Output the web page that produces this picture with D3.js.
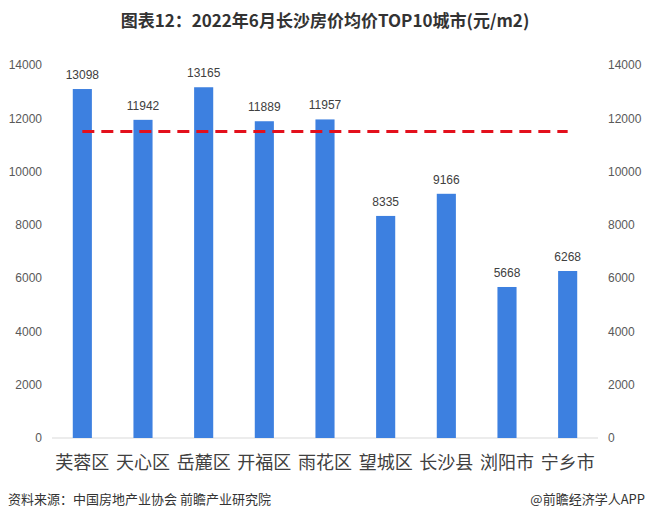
<!DOCTYPE html>
<html>
<head>
<meta charset="utf-8">
<script src="https://cdn.jsdelivr.net/npm/d3@7"></script>
<style>
  body { margin: 0; background: #fff; }
  text { font-family: "Noto Sans CJK SC", "Noto Sans", sans-serif; }
  .num { font-family: "Liberation Sans", Arial, sans-serif; }
</style>
</head>
<body>
<svg id="chart"></svg>
<script>
const categories = ["芙蓉区", "天心区", "岳麓区", "开福区", "雨花区", "望城区", "长沙县", "浏阳市", "宁乡市"];
const prices = [13098, 11942, 13165, 11889, 11957, 8335, 9166, 5668, 6268];
const avgLine = 11500;
const yTicks = [0, 2000, 4000, 6000, 8000, 10000, 12000, 14000];

const width = 650, height = 522;
const margin = { top: 65, bottom: 84, left: 52, right: 52 };

const svg = d3.select("#chart").attr("width", width).attr("height", height);

// title
svg.append("text")
  .attr("x", width / 2).attr("y", 27)
  .attr("text-anchor", "middle")
  .style("font-size", "17px").style("font-weight", "bold")
  .style("fill", "#333")
  .text("图表12：2022年6月长沙房价均价TOP10城市(元/m2)");

const x = d3.scaleBand()
  .domain(categories)
  .range([margin.left, width - margin.right])
  .paddingInner(0.685)
  .paddingOuter(0.3425);

const y = d3.scaleLinear()
  .domain([0, 14000])
  .range([height - margin.bottom, margin.top]);

// left axis
const leftAxis = svg.append("g")
  .attr("transform", `translate(${margin.left - 10},0)`)
  .call(d3.axisLeft(y).tickValues(yTicks).tickFormat(d3.format("d")).tickSize(0).tickPadding(0));
leftAxis.select(".domain").remove();
leftAxis.selectAll("text").attr("class", "num").style("font-size", "12px").style("fill", "#595959");

// right axis
const rightAxis = svg.append("g")
  .attr("transform", `translate(${width - margin.right + 10},0)`)
  .call(d3.axisRight(y).tickValues(yTicks).tickFormat(d3.format("d")).tickSize(0).tickPadding(0));
rightAxis.select(".domain").remove();
rightAxis.selectAll("text").attr("class", "num").style("font-size", "12px").style("fill", "#595959");

// baseline
svg.append("line")
  .attr("x1", margin.left).attr("x2", width - margin.right)
  .attr("y1", y(0)).attr("y2", y(0))
  .style("stroke", "#d9d9d9").style("stroke-width", 1);

// bars
svg.selectAll(".bar")
  .data(prices)
  .join("rect")
  .attr("class", "bar")
  .attr("x", (d, i) => x(categories[i]))
  .attr("y", d => y(d))
  .attr("width", x.bandwidth())
  .attr("height", d => y(0) - y(d))
  .style("fill", "#3d80e0");

// value labels
svg.selectAll(".val")
  .data(prices)
  .join("text")
  .attr("class", "val num")
  .attr("x", (d, i) => x(categories[i]) + x.bandwidth() / 2)
  .attr("y", d => y(d) - 10)
  .attr("text-anchor", "middle")
  .style("font-size", "12px").style("fill", "#404040")
  .text(d => d);

// red dashed average line
svg.append("line")
  .attr("x1", x(categories[0]) + x.bandwidth() / 2)
  .attr("x2", x(categories[categories.length - 1]) + x.bandwidth() / 2)
  .attr("y1", y(avgLine)).attr("y2", y(avgLine))
  .style("stroke", "#e3101c").style("stroke-width", 3)
  .style("stroke-dasharray", "12,7");

// category labels
svg.selectAll(".cat")
  .data(categories)
  .join("text")
  .attr("class", "cat")
  .attr("x", d => x(d) + x.bandwidth() / 2)
  .attr("y", y(0) + 31)
  .attr("text-anchor", "middle")
  .style("font-size", "18px").style("fill", "#404040")
  .text(d => d);

// footer
svg.append("text")
  .attr("x", 8).attr("y", 504)
  .style("font-size", "13px").style("fill", "#333")
  .text("资料来源：中国房地产业协会 前瞻产业研究院");
svg.append("text")
  .attr("x", 645).attr("y", 504)
  .attr("text-anchor", "end")
  .style("font-size", "13px").style("fill", "#333")
  .text("@前瞻经济学人APP");
</script>
</body>
</html>
